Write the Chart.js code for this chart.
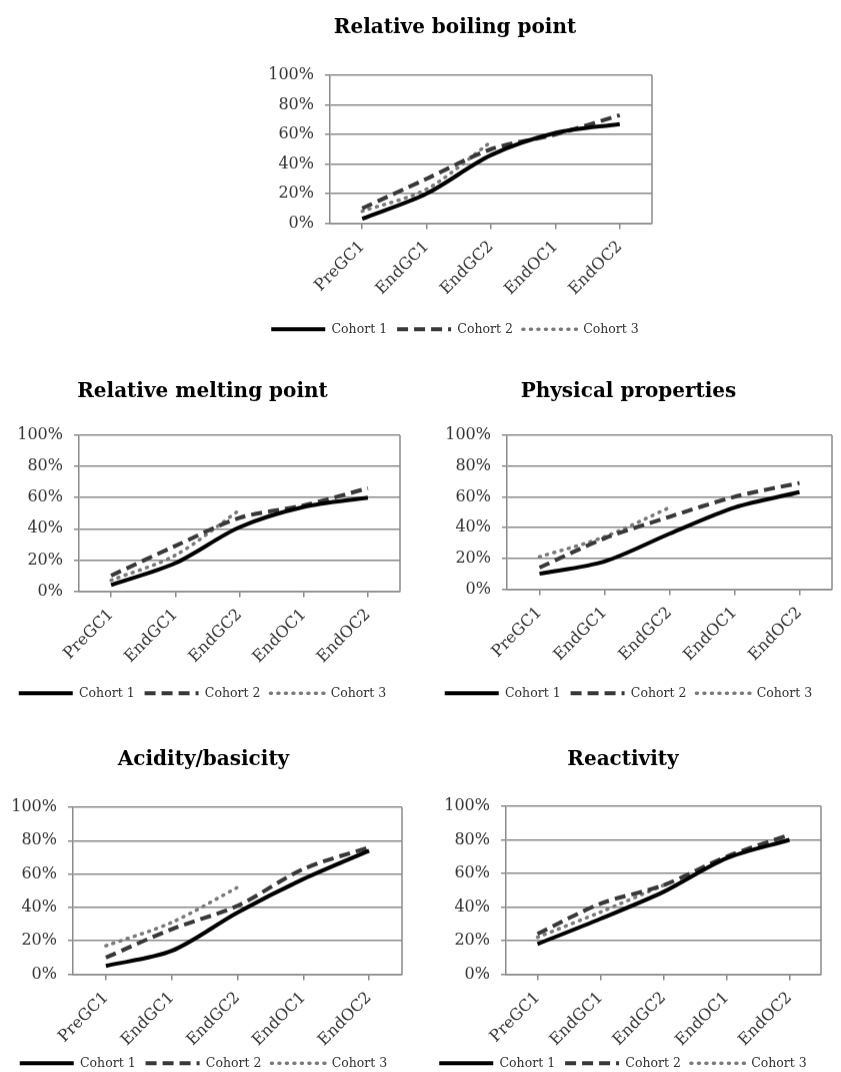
<!DOCTYPE html>
<html>
<head>
<meta charset="utf-8">
<title>Cohort progress charts</title>
<script src="https://cdn.jsdelivr.net/npm/chart.js@4.4.0/dist/chart.umd.min.js"></script>
<style>
    html, body { margin: 0; padding: 0; background: #fff; overflow: hidden; }
    body { width: 841px; height: 1072px; position: relative; }
    .chart-box { position: absolute; }
</style>
</head>
<body>
<div class="chart-box" id="boxBoiling"><canvas id="chartBoiling"></canvas></div>
<div class="chart-box" id="boxMelting"><canvas id="chartMelting"></canvas></div>
<div class="chart-box" id="boxPhysical"><canvas id="chartPhysical"></canvas></div>
<div class="chart-box" id="boxAcidity"><canvas id="chartAcidity"></canvas></div>
<div class="chart-box" id="boxReactivity"><canvas id="chartReactivity"></canvas></div>

<script>
// ========== DATA ==========
const stages = ['PreGC1', 'EndGC1', 'EndGC2', 'EndOC1', 'EndOC2'];
const cohortNames = ['Cohort 1', 'Cohort 2', 'Cohort 3'];
const yTickValues = [0, 20, 40, 60, 80, 100];

const boilingC1 = [3, 20, 46, 61, 67];
const boilingC2 = [10, 30, 50, 60, 73];
const boilingC3 = [8, 23, 55, null, null];

const meltingC1 = [4, 18, 41, 54, 60];
const meltingC2 = [10, 29, 47, 55, 66];
const meltingC3 = [7, 23, 52, null, null];

const physicalC1 = [10, 18, 36, 53, 63];
const physicalC2 = [14, 33, 47, 60, 69];
const physicalC3 = [21, 34, 53, null, null];

const acidityC1 = [5, 14, 37, 57, 74];
const acidityC2 = [10, 27, 41, 63, 76];
const acidityC3 = [17, 31, 52, null, null];

const reactivityC1 = [18, 33, 49, 69, 80];
const reactivityC2 = [24, 42, 53, 70, 83];
const reactivityC3 = [22, 37, 53, null, null];

// ========== STYLE ==========
const serif = "'DejaVu Serif', 'Liberation Serif', serif";
const gridColor = '#8a8a8a';
const tickColor = '#333333';
const TITLE_SIZE = 20;

const cohortStyles = [
    { color: '#000000', width: 4, dash: [], cap: 'butt' },
    { color: '#383838', width: 4, dash: [11, 6], cap: 'butt' },
    { color: '#7a7a7a', width: 3.5, dash: [1, 6.5], cap: 'round' }
];

// target plot boxes (page pixels) for each chart
const layouts = {
    boiling:    { left: 258, width: 402, plot: { l: 330, t: 75,  r: 652, b: 222 }, titleY: 28,  legendY: 328 },
    melting:    { left: 5,   width: 405, plot: { l: 79,  t: 435, r: 400, b: 590 }, titleY: 392, legendY: 692 },
    physical:   { left: 425, width: 413, plot: { l: 507, t: 435, r: 832, b: 588 }, titleY: 392, legendY: 692 },
    acidity:    { left: 5,   width: 405, plot: { l: 73,  t: 807, r: 402, b: 973 }, titleY: 760, legendY: 1062 },
    reactivity: { left: 425, width: 410, plot: { l: 506, t: 806, r: 821, b: 973 }, titleY: 760, legendY: 1062 }
};

// right border of the plot frame
const plotFrame = {
    id: 'plotFrame',
    beforeDatasetsDraw(chart) {
        const { ctx, chartArea: a } = chart;
        ctx.save();
        ctx.strokeStyle = gridColor;
        ctx.lineWidth = 1.5;
        ctx.beginPath();
        ctx.moveTo(a.right, a.top);
        ctx.lineTo(a.right, a.bottom);
        ctx.stroke();
        ctx.restore();
    }
};

function legendItems(chart) {
    return chart.data.datasets.map((ds, i) => ({
        text: ds.label,
        fillStyle: ds.borderColor,
        strokeStyle: ds.borderColor,
        lineWidth: ds.borderWidth,
        lineDash: ds.borderDash,
        lineCap: ds.borderCapStyle,
        pointStyle: 'line',
        fontColor: tickColor,
        hidden: false,
        datasetIndex: i
    }));
}

function buildChart(key, titleText, series) {
    const lay = layouts[key];
    const name = key.charAt(0).toUpperCase() + key.slice(1);
    const box = document.getElementById('box' + name);
    const canvas = document.getElementById('chart' + name);

    const lineH = TITLE_SIZE * 1.2;
    const top = lay.titleY - 26;
    const legendTop = lay.legendY - 16.5;
    const height = legendTop + 33 + 2 - top;
    const xAxisH = legendTop - lay.plot.b;
    const yAxisW = lay.plot.l - lay.left;

    box.style.left = lay.left + 'px';
    box.style.top = top + 'px';
    box.style.width = lay.width + 'px';
    box.style.height = height + 'px';

    const datasets = series.map((values, i) => ({
        label: cohortNames[i],
        data: values,
        borderColor: cohortStyles[i].color,
        backgroundColor: cohortStyles[i].color,
        borderWidth: cohortStyles[i].width,
        borderDash: cohortStyles[i].dash,
        borderCapStyle: cohortStyles[i].cap,
        pointRadius: 0,
        tension: 0.3,
        fill: false,
        spanGaps: false
    }));

    new Chart(canvas, {
        type: 'line',
        data: { labels: stages, datasets: datasets },
        options: {
            responsive: true,
            maintainAspectRatio: false,
            animation: false,
            layout: {
                padding: {
                    left: 0,
                    right: lay.left + lay.width - lay.plot.r,
                    top: 0,
                    bottom: 2
                }
            },
            plugins: {
                title: {
                    display: true,
                    text: titleText,
                    color: '#000',
                    font: { family: serif, size: TITLE_SIZE, weight: 'bold' },
                    padding: {
                        top: lay.titleY - top - lineH / 2,
                        bottom: lay.plot.t - lay.titleY - lineH / 2
                    }
                },
                legend: {
                    position: 'bottom',
                    labels: {
                        usePointStyle: true,
                        pointStyle: 'line',
                        pointStyleWidth: 54,
                        color: tickColor,
                        padding: 10,
                        font: { family: serif, size: 12.5 },
                        generateLabels: legendItems
                    }
                },
                tooltip: { enabled: false }
            },
            scales: {
                x: {
                    offset: true,
                    grid: {
                        offset: false,
                        drawOnChartArea: false,
                        color: gridColor,
                        lineWidth: 1.5,
                        tickLength: 6
                    },
                    border: { color: gridColor, width: 1.5 },
                    ticks: {
                        minRotation: 45,
                        maxRotation: 45,
                        padding: 8,
                        color: tickColor,
                        font: { family: serif, size: 16 }
                    },
                    afterFit: scale => { scale.height = xAxisH; }
                },
                y: {
                    min: 0,
                    max: 100,
                    afterBuildTicks: scale => {
                        scale.ticks = yTickValues.map(v => ({ value: v }));
                    },
                    grid: { color: gridColor, lineWidth: 1.5, tickLength: 5 },
                    border: { color: gridColor, width: 1.5 },
                    ticks: {
                        padding: 11,
                        color: tickColor,
                        font: { family: serif, size: 16 },
                        callback: value => value + '%'
                    },
                    afterFit: scale => { scale.width = yAxisW; }
                }
            }
        },
        plugins: [plotFrame]
    });
}

buildChart('boiling', 'Relative boiling point', [boilingC1, boilingC2, boilingC3]);
buildChart('melting', 'Relative melting point', [meltingC1, meltingC2, meltingC3]);
buildChart('physical', 'Physical properties', [physicalC1, physicalC2, physicalC3]);
buildChart('acidity', 'Acidity/basicity', [acidityC1, acidityC2, acidityC3]);
buildChart('reactivity', 'Reactivity', [reactivityC1, reactivityC2, reactivityC3]);
</script>
</body>
</html>
